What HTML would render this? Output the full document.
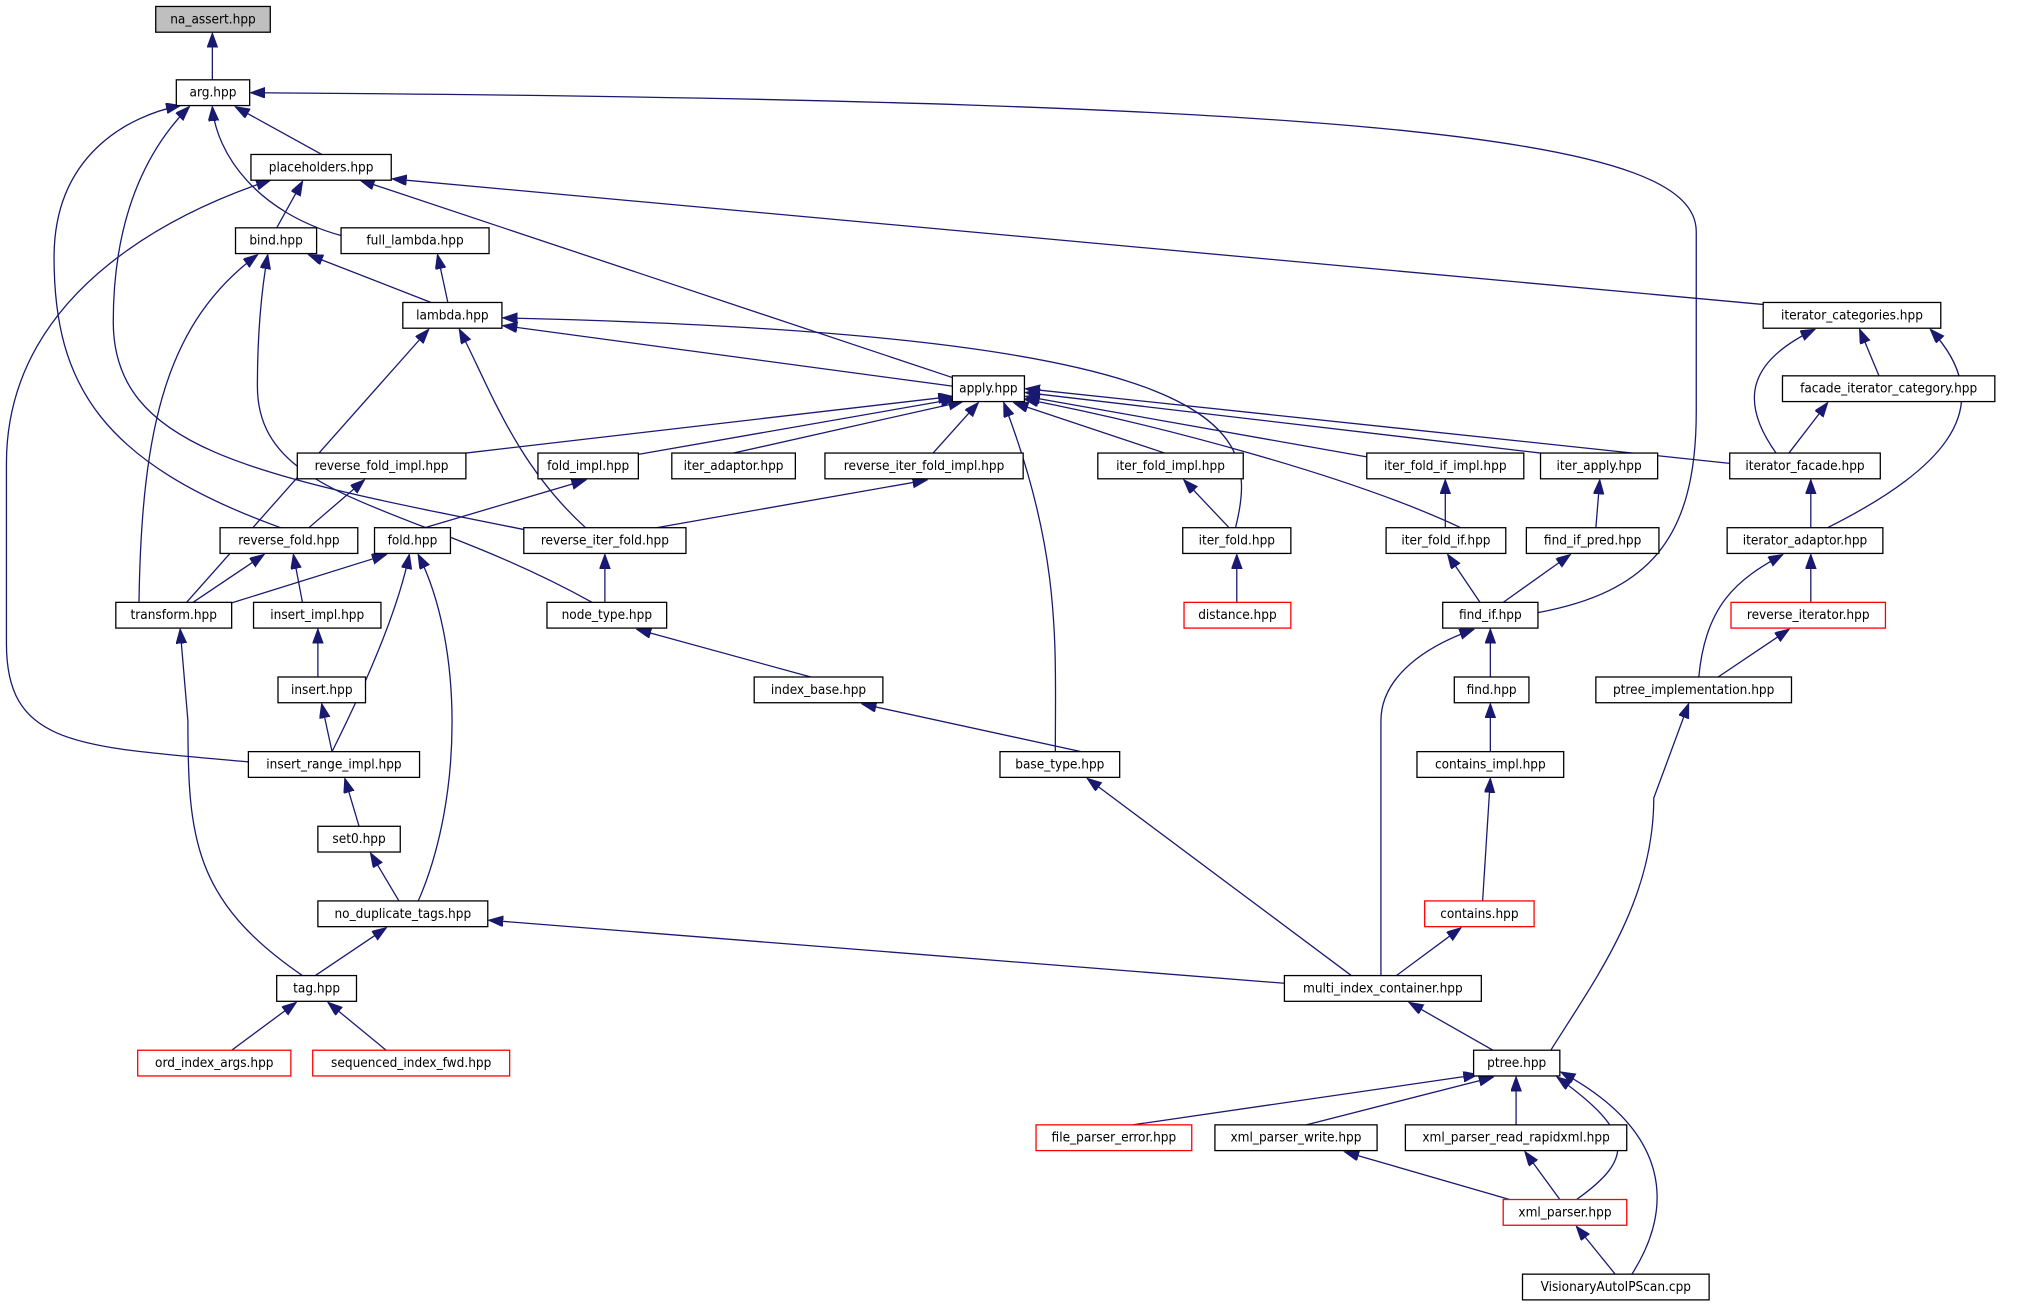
<!DOCTYPE html>
<html><head><meta charset="utf-8"><style>
html,body{margin:0;padding:0;background:#fff;}
svg{display:block}
text{font-family:"DejaVu Sans Condensed","DejaVu Sans","Liberation Sans",sans-serif;font-size:10.5px;text-anchor:middle;dominant-baseline:central;fill:#000}
.e{fill:none;stroke:#191970;stroke-width:1;marker-end:url(#a)}
rect{fill:#fff;stroke:#000;stroke-width:1}
rect.r{stroke:#ff0000}
</style></head><body>
<svg width="2018" height="1307" viewBox="0 0 1568 1015.5" xmlns="http://www.w3.org/2000/svg">
<defs><marker id="a" markerUnits="userSpaceOnUse" markerWidth="12" markerHeight="10" refX="11" refY="4" orient="auto"><path d="M0,0 L11,4 L0,8 Z" fill="#191970" stroke="#191970"/></marker></defs>
<g>
<path class="e" d="M165,62 L165,26"/>
<path class="e" d="M250,120 L183,83"/>
<path class="e" d="M265,183 C200,165 168,120 165,83"/>
<path class="e" d="M218,410 C80,360 42,300 42,200 C42,120 100,90 140,82"/>
<path class="e" d="M410,412 C200,370 88,350 88,250 C88,160 120,110 147,83"/>
<path class="e" d="M215,177 L235,141"/>
<path class="e" d="M745,295 L280,140"/>
<path class="e" d="M1375,237 L305,139"/>
<path class="e" d="M193,592 C60,580 5,580 5,500 L5,360 C5,220 150,160 210,140"/>
<path class="e" d="M335,235 L240,198"/>
<path class="e" d="M108,468 C110,330 130,250 200,198"/>
<path class="e" d="M460,468 C320,390 200,390 200,300 C200,250 205,215 208,198"/>
<path class="e" d="M348,235 L340,198"/>
<path class="e" d="M740,300 L391,253"/>
<path class="e" d="M145,468 L333,256"/>
<path class="e" d="M455,410 C400,360 380,300 357,256"/>
<path class="e" d="M960,410 C980,330 960,260 391,247"/>
<path class="e" d="M362,352 L740,308"/>
<path class="e" d="M496,353 L742,310"/>
<path class="e" d="M570,352 L748,312"/>
<path class="e" d="M725,352 L760,313"/>
<path class="e" d="M820,584 C820,500 825,430 780,313"/>
<path class="e" d="M905,352 L788,313"/>
<path class="e" d="M1135,410 C1050,370 900,330 796,310"/>
<path class="e" d="M1062,355 L797,308"/>
<path class="e" d="M1197,352 L797,305"/>
<path class="e" d="M1344,360 L797,302"/>
<path class="e" d="M1460,292 L1445,256"/>
<path class="e" d="M1380,352 C1350,310 1360,280 1410,256"/>
<path class="e" d="M1420,410 C1500,370 1560,320 1500,256"/>
<path class="e" d="M1390,352 L1420,313"/>
<path class="e" d="M1407,410 L1407,373"/>
<path class="e" d="M240,410 L283,373"/>
<path class="e" d="M330,410 L455,373"/>
<path class="e" d="M510,410 L720,373"/>
<path class="e" d="M955,410 L920,373"/>
<path class="e" d="M1123,410 L1123,373"/>
<path class="e" d="M1240,410 L1243,373"/>
<path class="e" d="M150,468 L205,431"/>
<path class="e" d="M235,468 L228,431"/>
<path class="e" d="M175,470 L300,431"/>
<path class="e" d="M258,584 C290,520 310,470 318,431"/>
<path class="e" d="M325,700 C360,620 360,500 325,431"/>
<path class="e" d="M470,468 L470,431"/>
<path class="e" d="M961,468 L961,431"/>
<path class="e" d="M1150,468 L1125,431"/>
<path class="e" d="M1168,468 L1220,431"/>
<path class="e" d="M1195,476 C1280,460 1318,420 1318,320 L1318,180 C1318,110 1100,78 195,72"/>
<path class="e" d="M630,526 L495,489"/>
<path class="e" d="M247,526 L247,489"/>
<path class="e" d="M258,584 L250,547"/>
<path class="e" d="M235,758 C150,700 146,650 146,560 L140,489"/>
<path class="e" d="M840,584 L670,547"/>
<path class="e" d="M1158,526 L1158,489"/>
<path class="e" d="M1073,758 L1073,560 C1073,530 1100,505 1145,489"/>
<path class="e" d="M1158,584 L1158,547"/>
<path class="e" d="M1407,468 L1407,431"/>
<path class="e" d="M1320,526 C1325,470 1350,450 1385,431"/>
<path class="e" d="M1335,526 L1390,489"/>
<path class="e" d="M279,642 L268,605"/>
<path class="e" d="M1050,758 L845,605"/>
<path class="e" d="M1152,700 L1158,605"/>
<path class="e" d="M310,700 L288,663"/>
<path class="e" d="M245,758 L300,721"/>
<path class="e" d="M998,764 L380,715"/>
<path class="e" d="M1085,758 L1135,721"/>
<path class="e" d="M1205,816 C1240,760 1285,700 1285,620 L1312,547"/>
<path class="e" d="M180,816 L230,779"/>
<path class="e" d="M300,816 L255,779"/>
<path class="e" d="M1160,816 L1095,779"/>
<path class="e" d="M880,874 L1148,835"/>
<path class="e" d="M1015,874 L1160,837"/>
<path class="e" d="M1178,874 L1178,837"/>
<path class="e" d="M1225,932 C1270,900 1270,880 1210,837"/>
<path class="e" d="M1268,990 C1300,940 1300,880 1213,833"/>
<path class="e" d="M1180,934 L1045,895"/>
<path class="e" d="M1212,932 L1185,895"/>
<path class="e" d="M1255,990 L1225,953"/>
</g>
<g>
<rect x="121" y="5" width="89" height="20" style="fill:#bfbfbf"/><text x="165.5" y="15">na_assert.hpp</text>
<rect x="137" y="62" width="57" height="20"/><text x="165.5" y="72">arg.hpp</text>
<rect x="195" y="120" width="109" height="20"/><text x="249.5" y="130">placeholders.hpp</text>
<rect x="183" y="177" width="63" height="20"/><text x="214.5" y="187">bind.hpp</text>
<rect x="265" y="177" width="115" height="20"/><text x="322.5" y="187">full_lambda.hpp</text>
<rect x="313" y="235" width="77" height="20"/><text x="351.5" y="245">lambda.hpp</text>
<rect x="1370" y="235" width="138" height="20"/><text x="1439" y="245">iterator_categories.hpp</text>
<rect x="1385" y="292" width="165" height="20"/><text x="1467.5" y="302">facade_iterator_category.hpp</text>
<rect x="740" y="292" width="56" height="20"/><text x="768" y="302">apply.hpp</text>
<rect x="231" y="352" width="131" height="20"/><text x="296.5" y="362">reverse_fold_impl.hpp</text>
<rect x="418" y="352" width="78" height="20"/><text x="457" y="362">fold_impl.hpp</text>
<rect x="522" y="352" width="96" height="20"/><text x="570" y="362">iter_adaptor.hpp</text>
<rect x="641" y="352" width="154" height="20"/><text x="718" y="362">reverse_iter_fold_impl.hpp</text>
<rect x="853" y="352" width="113" height="20"/><text x="909.5" y="362">iter_fold_impl.hpp</text>
<rect x="1062" y="352" width="122" height="20"/><text x="1123" y="362">iter_fold_if_impl.hpp</text>
<rect x="1197" y="352" width="91" height="20"/><text x="1242.5" y="362">iter_apply.hpp</text>
<rect x="1344" y="352" width="117" height="20"/><text x="1402.5" y="362">iterator_facade.hpp</text>
<rect x="171" y="410" width="107" height="20"/><text x="224.5" y="420">reverse_fold.hpp</text>
<rect x="291" y="410" width="59" height="20"/><text x="320.5" y="420">fold.hpp</text>
<rect x="407" y="410" width="126" height="20"/><text x="470" y="420">reverse_iter_fold.hpp</text>
<rect x="919" y="410" width="84" height="20"/><text x="961" y="420">iter_fold.hpp</text>
<rect x="1077" y="410" width="93" height="20"/><text x="1123.5" y="420">iter_fold_if.hpp</text>
<rect x="1186" y="410" width="103" height="20"/><text x="1237.5" y="420">find_if_pred.hpp</text>
<rect x="1342" y="410" width="121" height="20"/><text x="1402.5" y="420">iterator_adaptor.hpp</text>
<rect x="90" y="468" width="90" height="20"/><text x="135" y="478">transform.hpp</text>
<rect x="197" y="468" width="99" height="20"/><text x="246.5" y="478">insert_impl.hpp</text>
<rect x="425" y="468" width="93" height="20"/><text x="471.5" y="478">node_type.hpp</text>
<rect class="r" x="920" y="468" width="83" height="20"/><text x="961.5" y="478">distance.hpp</text>
<rect x="1121" y="468" width="74" height="20"/><text x="1158" y="478">find_if.hpp</text>
<rect class="r" x="1345" y="468" width="120" height="20"/><text x="1405" y="478">reverse_iterator.hpp</text>
<rect x="216" y="526" width="68" height="20"/><text x="250" y="536">insert.hpp</text>
<rect x="586" y="526" width="100" height="20"/><text x="636" y="536">index_base.hpp</text>
<rect x="1130" y="526" width="58" height="20"/><text x="1159" y="536">find.hpp</text>
<rect x="1240" y="526" width="152" height="20"/><text x="1316" y="536">ptree_implementation.hpp</text>
<rect x="193" y="584" width="133" height="20"/><text x="259.5" y="594">insert_range_impl.hpp</text>
<rect x="777" y="584" width="93" height="20"/><text x="823.5" y="594">base_type.hpp</text>
<rect x="1101" y="584" width="114" height="20"/><text x="1158" y="594">contains_impl.hpp</text>
<rect x="247" y="642" width="64" height="20"/><text x="279" y="652">set0.hpp</text>
<rect x="247" y="700" width="132" height="20"/><text x="313" y="710">no_duplicate_tags.hpp</text>
<rect class="r" x="1107" y="700" width="85" height="20"/><text x="1149.5" y="710">contains.hpp</text>
<rect x="215" y="758" width="62" height="20"/><text x="246" y="768">tag.hpp</text>
<rect x="998" y="758" width="153" height="20"/><text x="1074.5" y="768">multi_index_container.hpp</text>
<rect class="r" x="107" y="816" width="119" height="20"/><text x="166.5" y="826">ord_index_args.hpp</text>
<rect class="r" x="243" y="816" width="153" height="20"/><text x="319.5" y="826">sequenced_index_fwd.hpp</text>
<rect x="1145" y="816" width="67" height="20"/><text x="1178.5" y="826">ptree.hpp</text>
<rect class="r" x="805" y="874" width="121" height="20"/><text x="865.5" y="884">file_parser_error.hpp</text>
<rect x="944" y="874" width="126" height="20"/><text x="1007" y="884">xml_parser_write.hpp</text>
<rect x="1092" y="874" width="172" height="20"/><text x="1178" y="884">xml_parser_read_rapidxml.hpp</text>
<rect class="r" x="1168" y="932" width="96" height="20"/><text x="1216" y="942">xml_parser.hpp</text>
<rect x="1183" y="990" width="145" height="20"/><text x="1255.5" y="1000">VisionaryAutoIPScan.cpp</text>
</g>
</svg>
</body></html>
